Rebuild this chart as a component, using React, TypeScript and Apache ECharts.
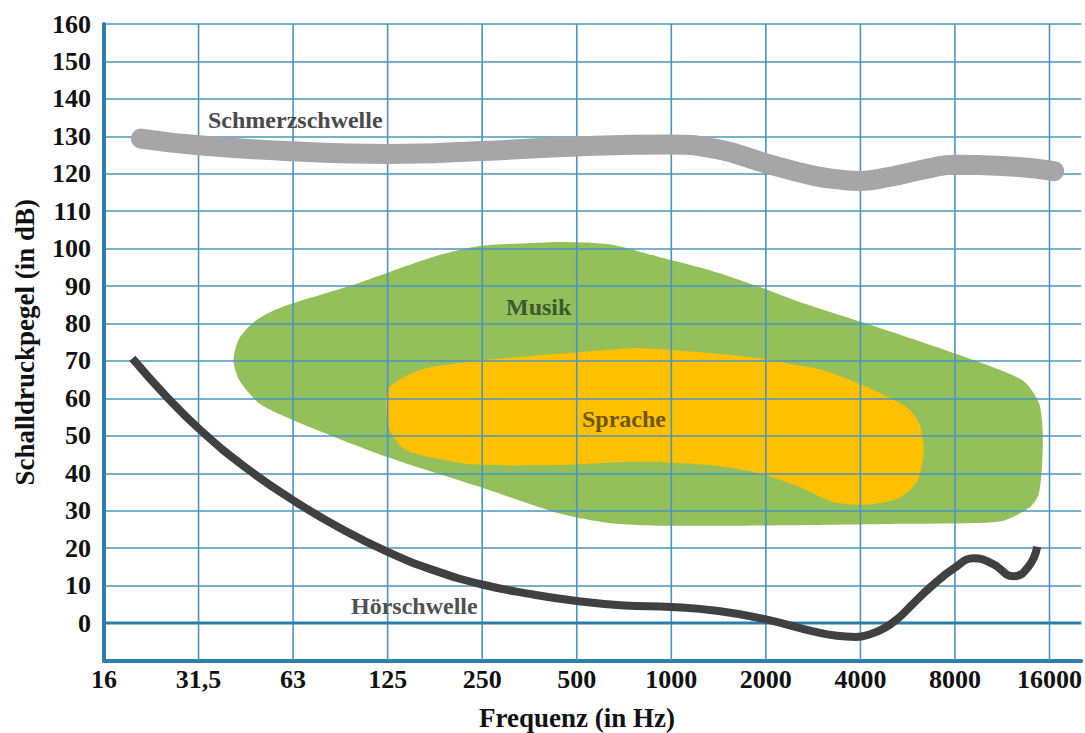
import React, { useEffect, useRef } from "react";
import * as echarts from "echarts";

// X positions are octave steps above 16 Hz (0 = 16 Hz, 10 = 16000 Hz)
const freqLabels = ["16", "31,5", "63", "125", "250", "500", "1000", "2000", "4000", "8000", "16000"];
const xMax = 10.335;

// Schmerzschwelle (pain threshold)
const painX = [0.39, 1.0, 2.0, 3.0, 4.0, 5.0, 6.0, 6.5, 7.0, 7.5, 7.8, 8.0, 8.25, 8.5, 8.75, 9.0, 9.5, 10.05];
const painY = [129.4, 127.6, 126.0, 125.3, 126.1, 127.3, 127.8, 126.5, 122.8, 119.5, 118.4, 118.1, 118.9, 120.2, 121.6, 122.4, 122.1, 120.7];

// Hörschwelle (hearing threshold)
const hearX = [0.3, 0.65, 1.0, 1.5, 2.0, 2.5, 3.0, 3.5, 4.0, 4.5, 5.0, 5.5, 6.0, 6.5, 7.0, 7.5, 7.75, 7.95, 8.1, 8.25, 8.4, 8.55, 8.75, 9.0, 9.2, 9.4, 9.62, 9.78, 9.87];
const hearY = [70.7, 60.8, 52.0, 41.5, 32.8, 25.3, 19.0, 14.0, 10.3, 7.8, 5.9, 4.7, 4.3, 3.2, 1.0, -2.2, -3.4, -3.7, -3.0, -1.4, 1.3, 5.0, 9.8, 14.8, 17.3, 15.8, 12.5, 15.2, 20.4];

// Musik area outline
const musikX = [1.37, 1.43, 1.61, 1.89, 2.63, 3.48, 3.97, 4.53, 4.81, 5.34, 5.87, 6.4, 6.93, 7.35, 8.06, 9.0, 9.71, 9.89, 9.93, 9.89, 9.78, 9.47, 8.41, 7.56, 5.87, 5.34, 4.81, 3.97, 2.98, 2.0, 1.64, 1.43];
const musikY = [70.2, 76.0, 80.9, 84.5, 90.3, 97.8, 100.7, 101.5, 101.8, 101.2, 97.8, 94.3, 89.8, 85.8, 80.0, 72.0, 64.9, 58.7, 48.9, 34.7, 30.7, 27.1, 26.5, 26.2, 26.0, 26.7, 29.3, 36.4, 44.5, 54.2, 58.7, 64.9];

// Sprache area outline
const spracheX = [3.02, 3.34, 3.86, 4.82, 5.63, 6.22, 6.93, 7.35, 7.6, 8.02, 8.48, 8.62, 8.67, 8.6, 8.41, 8.06, 7.7, 7.35, 6.93, 6.4, 5.63, 4.82, 4.04, 3.69, 3.19, 3.02, 2.98];
const spracheY = [63.1, 67.6, 69.8, 71.9, 73.4, 72.5, 70.7, 68.8, 67.6, 63.6, 57.8, 53.4, 46.2, 37.8, 33.4, 31.6, 32.4, 36.4, 40.0, 42.2, 43.1, 42.2, 42.2, 43.1, 46.2, 51.6, 58.7];

const gridColor = "#4b94c2";
const axisColor = "#2d7db1";
const FONT = "'Liberation Serif', 'Times New Roman', serif";

function areaSeries(xs: number[], ys: number[], fill: string) {
  return {
    type: "custom",
    z: 1,
    silent: true,
    data: xs.map((x, i) => [x, ys[i]]),
    renderItem: (params: any, api: any) => {
      if (params.dataIndex !== 0) return { type: "group", children: [] };
      const pts = xs.map((x, i) => api.coord([x, ys[i]]));
      return {
        type: "polygon",
        shape: { points: pts, smooth: 0.25 },
        style: { fill },
      };
    },
  };
}

function label(text: string, x: number, y: number, fill: string, size: number, align = "left") {
  return {
    type: "text",
    z: 100,
    x,
    y,
    style: { text, fontFamily: FONT, fontWeight: "bold", fontSize: size, fill, textAlign: align, textVerticalAlign: "middle" },
  };
}

export default function App() {
  const ref = useRef<HTMLDivElement>(null);
  useEffect(() => {
    document.body.style.margin = "0";
    const chart = echarts.init(ref.current!, null, { renderer: "svg" });

    const vGrid = freqLabels.slice(1).map((_, i) => ({
      type: "line",
      z: 2,
      silent: true,
      symbol: "none",
      data: [
        [i + 1, -10],
        [i + 1, 160],
      ],
      lineStyle: { color: gridColor, width: 1.6 },
    }));

    const option: any = {
      animation: false,
      grid: { left: 104, right: 3.3, top: 24, bottom: 72.5 },
      xAxis: {
        type: "value",
        min: 0,
        max: xMax,
        interval: 1,
        z: 2,
        axisLine: { show: true, onZero: false, lineStyle: { color: axisColor, width: 4 } },
        axisTick: { show: false },
        splitLine: { show: false },
        axisLabel: {
          margin: 6,
          fontFamily: FONT,
          fontWeight: "bold",
          fontSize: 26,
          color: "#111",
          showMaxLabel: false,
          formatter: (v: number) => {
            const k = Math.round(v);
            return Math.abs(v - k) < 1e-6 && freqLabels[k] !== undefined ? freqLabels[k] : "";
          },
        },
      },
      yAxis: {
        type: "value",
        min: -10,
        max: 160,
        interval: 10,
        z: 2,
        name: "Schalldruckpegel (in dB)",
        nameLocation: "middle",
        nameGap: 66,
        nameTextStyle: { fontFamily: FONT, fontWeight: "bold", fontSize: 27, color: "#111" },
        axisLine: { show: true, onZero: false, lineStyle: { color: axisColor, width: 4 } },
        axisTick: { show: false },
        splitLine: { show: true, lineStyle: { color: gridColor, width: 1.6 } },
        axisLabel: {
          margin: 13,
          fontFamily: FONT,
          fontWeight: "bold",
          fontSize: 26,
          color: "#111",
          formatter: (v: number) => (v < 0 ? "" : String(v)),
        },
      },
      graphic: [
        label("Frequenz (in Hz)", 577, 718, "#111", 27, "center"),
        label("Schmerzschwelle", 208, 120, "#4a4a4a", 24),
        label("Musik", 506, 307, "#3b5a2c", 24),
        label("Sprache", 582, 419, "#6e5500", 24),
        label("Hörschwelle", 351, 606, "#505050", 24),
      ],
      series: [
        areaSeries(musikX, musikY, "#93c05b"),
        areaSeries(spracheX, spracheY, "#ffc000"),
        ...vGrid,
        {
          type: "line",
          z: 2,
          silent: true,
          symbol: "none",
          data: [
            [0, 0],
            [xMax, 0],
          ],
          lineStyle: { color: axisColor, width: 3 },
        },
        {
          name: "Schmerzschwelle",
          type: "line",
          z: 3,
          symbol: "none",
          smooth: 0.5,
          data: painX.map((x, i) => [x, painY[i]]),
          lineStyle: { color: "#a6a6a6", width: 20, cap: "round", join: "round" },
        },
        {
          name: "Hörschwelle",
          type: "line",
          z: 3,
          symbol: "none",
          smooth: 0.5,
          data: hearX.map((x, i) => [x, hearY[i]]),
          lineStyle: { color: "#404040", width: 8, cap: "butt", join: "round" },
        },
      ],
    };
    chart.setOption(option);
    return () => chart.dispose();
  }, []);
  return <div ref={ref} style={{ position: "absolute", left: 0, top: 0, width: 1085, height: 733 }} />;
}
